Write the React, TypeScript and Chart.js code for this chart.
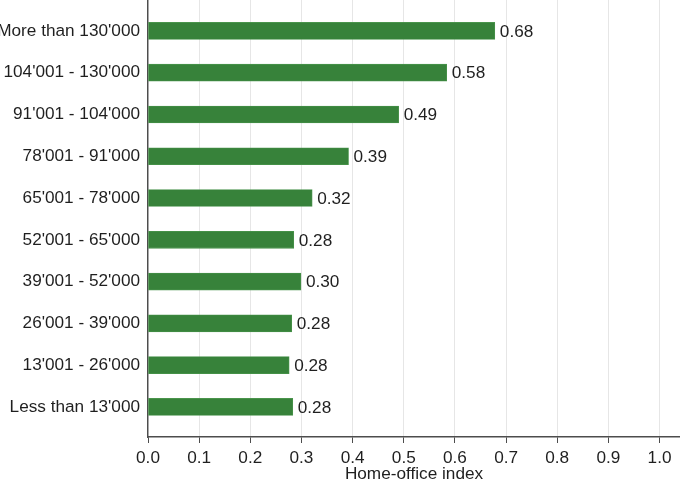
import React, { useEffect, useRef } from "react";
import { Chart, registerables } from "chart.js";

Chart.register(...registerables);

const categories = [
  "More than 130'000",
  "104'001 - 130'000",
  "91'001 - 104'000",
  "78'001 - 91'000",
  "65'001 - 78'000",
  "52'001 - 65'000",
  "39'001 - 52'000",
  "26'001 - 39'000",
  "13'001 - 26'000",
  "Less than 13'000",
];
const values = [0.678, 0.584, 0.49, 0.392, 0.321, 0.285, 0.299, 0.281, 0.276, 0.283];
const valueLabels = ["0.68", "0.58", "0.49", "0.39", "0.32", "0.28", "0.30", "0.28", "0.28", "0.28"];
const xTicks = [0, 0.1, 0.2, 0.3, 0.4, 0.5, 0.6, 0.7, 0.8, 0.9, 1.0];
const xTitle = "Home-office index";

const FONT = "'Liberation Sans', Arial, Helvetica, sans-serif";
const TEXT = "#1f1f1f";
const FS = 17.2;
const AXIS = "#4d4d4d";

const valueLabelPlugin = {
  id: "valueLabels",
  afterDatasetsDraw(chart: any) {
    const ctx = chart.ctx;
    const meta = chart.getDatasetMeta(0);
    ctx.save();
    ctx.font = `${FS}px ${FONT}`;
    ctx.fillStyle = TEXT;
    ctx.textAlign = "left";
    ctx.textBaseline = "middle";
    meta.data.forEach((el: any, i: number) => {
      ctx.fillText(valueLabels[i], el.x + 5, el.y + 1);
    });
    ctx.restore();
  },
};

export default function App() {
  const ref = useRef<HTMLCanvasElement | null>(null);
  useEffect(() => {
    document.body.style.margin = "0";
    const canvas = ref.current!;
    const chart = new Chart(canvas, {
      type: "bar",
      data: {
        datasets: [
          {
            data: values.map((v, i) => ({ x: v, y: i })),
            backgroundColor: "#37823a",
            borderColor: "#4a944c",
            borderWidth: 0.8,
            borderSkipped: false,
            barThickness: 17,
          },
        ],
      },
      options: {
        indexAxis: "y",
        animation: false,
        responsive: false,
        maintainAspectRatio: false,
        layout: { padding: 0 },
        plugins: { legend: { display: false }, tooltip: { enabled: false } },
        scales: {
          x: {
            type: "linear",
            min: 0,
            max: 1.04,
            afterBuildTicks: (s: any) => {
              s.ticks = xTicks.map((v) => ({ value: v }));
            },
            afterFit: (s: any) => {
              s.height = 45;
              s.paddingLeft = 0;
              s.paddingRight = 0;
            },
            grid: {
              color: "#e6e6e6",
              lineWidth: 1,
              tickColor: AXIS,
              tickLength: 6,
              drawTicks: true,
            },
            border: { color: AXIS, width: 1.4 },
            ticks: {
              color: TEXT,
              font: { family: FONT, size: FS },
              padding: 5,
              maxRotation: 0,
              callback: (v: any) => Number(v).toFixed(1),
            },
            title: {
              display: true,
              text: xTitle,
              color: TEXT,
              font: { family: FONT, size: FS, lineHeight: 0.85 },
              padding: { top: 0, bottom: 0 },
            },
          },
          y: {
            type: "linear",
            reverse: true,
            offset: false,
            min: -0.74,
            max: 9.72,
            afterBuildTicks: (s: any) => {
              s.ticks = categories.map((_, i) => ({ value: i }));
            },
            afterFit: (s: any) => {
              s.width = 148;
              s.paddingTop = 0;
              s.paddingBottom = 0;
            },
            grid: { display: false, drawTicks: false },
            border: { color: AXIS, width: 1.4 },
            ticks: {
              color: TEXT,
              font: { family: FONT, size: FS },
              padding: 8,
              autoSkip: false,
              callback: (v: any) => categories[Math.round(Number(v))] ?? "",
            },
          },
        },
      },
      plugins: [valueLabelPlugin],
    });
    return () => chart.destroy();
  }, []);
  return (
    <div style={{ width: 680, height: 482 }}>
      <canvas ref={ref} width={680} height={482} style={{ display: "block" }} />
    </div>
  );
}
